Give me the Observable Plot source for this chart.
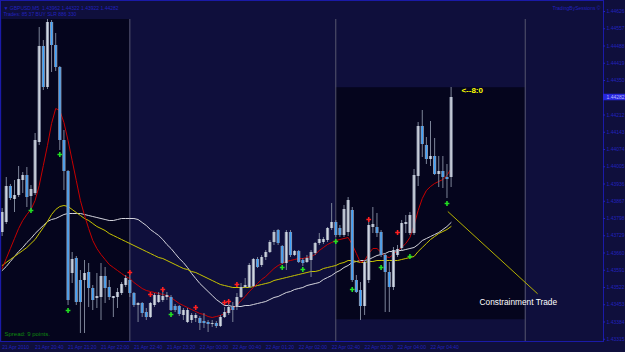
<!DOCTYPE html>
<html><head><meta charset="utf-8">
<script src="https://cdn.jsdelivr.net/npm/d3@7"></script>
<script src="https://cdn.jsdelivr.net/npm/@observablehq/plot@0.6"></script>
<style>
html,body{margin:0;padding:0;background:#0f0f3c;overflow:hidden}
svg{display:block}
</style></head><body><div id="chart"></div>
<script>
// ---- data (bar index 0..109, GBPUSD M5) ----
const open = [1.43742,1.43782,1.43926,1.43874,1.43890,1.43950,1.43970,1.43886,1.43898,1.44102,
1.44486,1.44322,1.44582,1.44490,1.44402,1.44110,1.43986,1.43578,1.43638,1.43550,
1.43550,1.43582,1.43518,1.43478,1.43482,1.43566,1.43522,1.43478,1.43482,1.43498,
1.43530,1.43550,1.43498,1.43450,1.43458,1.43422,1.43402,1.43450,1.43462,1.43470,
1.43482,1.43482,1.43446,1.43446,1.43410,1.43382,1.43390,1.43398,1.43398,1.43386,
1.43382,1.43374,1.43378,1.43366,1.43402,1.43418,1.43442,1.43442,1.43482,1.43522,
1.43522,1.43526,1.43634,1.43610,1.43642,1.43662,1.43702,1.43750,1.43686,1.43618,
1.43742,1.43650,1.43666,1.43630,1.43622,1.43630,1.43658,1.43698,1.43702,1.43710,
1.43758,1.43782,1.43758,1.43730,1.43742,1.43830,1.43550,1.43510,1.43446,1.43550,
1.43762,1.43762,1.43742,1.43650,1.43582,1.43522,1.43650,1.43678,1.43774,1.43738,
1.43738,1.43966,1.44166,1.44090,1.44034,1.44046,1.43974,1.43986,1.43962,1.43962];
const high = [1.43838,1.43962,1.43934,1.43950,1.44006,1.43982,1.44002,1.43930,1.44138,1.44562,
1.44510,1.44594,1.44590,1.44538,1.44406,1.44150,1.43990,1.43662,1.43646,1.43590,
1.43630,1.43618,1.43530,1.43578,1.43618,1.43602,1.43550,1.43486,1.43518,1.43542,
1.43570,1.43570,1.43502,1.43462,1.43462,1.43438,1.43462,1.43498,1.43502,1.43510,
1.43502,1.43490,1.43454,1.43450,1.43438,1.43438,1.43418,1.43418,1.43406,1.43418,
1.43390,1.43390,1.43386,1.43410,1.43442,1.43458,1.43462,1.43498,1.43538,1.43558,
1.43618,1.43638,1.43642,1.43650,1.43670,1.43710,1.43750,1.43754,1.43690,1.43750,
1.43750,1.43670,1.43670,1.43638,1.43650,1.43670,1.43702,1.43738,1.43722,1.43762,
1.43858,1.43790,1.43770,1.43850,1.43882,1.43842,1.43570,1.43542,1.43630,1.43790,
1.43842,1.43818,1.43750,1.43658,1.43622,1.43682,1.43690,1.43790,1.43810,1.43822,
1.43994,1.44182,1.44230,1.44122,1.44186,1.44118,1.44046,1.44046,1.44014,1.44322];
const low = [1.43726,1.43774,1.43870,1.43822,1.43882,1.43898,1.43842,1.43830,1.43890,1.44090,
1.44310,1.44314,1.44382,1.44386,1.44070,1.43910,1.43450,1.43538,1.43450,1.43338,
1.43338,1.43442,1.43430,1.43438,1.43390,1.43458,1.43470,1.43402,1.43438,1.43490,
1.43522,1.43482,1.43442,1.43382,1.43402,1.43390,1.43398,1.43442,1.43458,1.43462,
1.43470,1.43426,1.43422,1.43406,1.43390,1.43378,1.43378,1.43382,1.43350,1.43358,
1.43342,1.43362,1.43358,1.43362,1.43398,1.43410,1.43382,1.43430,1.43478,1.43518,
1.43518,1.43522,1.43598,1.43602,1.43630,1.43658,1.43690,1.43690,1.43614,1.43590,
1.43642,1.43646,1.43618,1.43606,1.43618,1.43562,1.43650,1.43690,1.43694,1.43702,
1.43750,1.43722,1.43722,1.43722,1.43726,1.43542,1.43498,1.43390,1.43410,1.43538,
1.43738,1.43722,1.43642,1.43422,1.43422,1.43510,1.43642,1.43670,1.43738,1.43730,
1.43730,1.43926,1.44042,1.44014,1.44006,1.43970,1.43922,1.43918,1.43878,1.43922];
const close = [1.43822,1.43926,1.43878,1.43890,1.43954,1.43970,1.43882,1.43914,1.44110,1.44486,
1.44322,1.44582,1.44490,1.44402,1.44110,1.43986,1.43470,1.43634,1.43462,1.43462,
1.43578,1.43518,1.43470,1.43486,1.43566,1.43518,1.43482,1.43486,1.43502,1.43534,
1.43558,1.43498,1.43450,1.43458,1.43418,1.43402,1.43458,1.43490,1.43490,1.43486,
1.43490,1.43430,1.43430,1.43414,1.43430,1.43430,1.43410,1.43410,1.43378,1.43378,
1.43374,1.43378,1.43366,1.43402,1.43422,1.43442,1.43430,1.43482,1.43522,1.43530,
1.43610,1.43634,1.43602,1.43642,1.43662,1.43702,1.43742,1.43698,1.43618,1.43742,
1.43650,1.43666,1.43622,1.43618,1.43638,1.43662,1.43698,1.43714,1.43714,1.43758,
1.43782,1.43730,1.43730,1.43834,1.43870,1.43550,1.43502,1.43446,1.43622,1.43770,
1.43774,1.43738,1.43650,1.43582,1.43522,1.43670,1.43674,1.43778,1.43782,1.43810,
1.43970,1.44166,1.44094,1.44034,1.44046,1.43974,1.43986,1.43962,1.43954,1.44282];
const maRed = [1.43598,1.43638,1.43678,1.43718,1.43758,1.43790,1.43814,1.43834,1.43870,1.43930,
1.44010,1.44090,1.44178,1.44238,1.44230,1.44182,1.44110,1.44030,1.43950,1.43870,
1.43810,1.43758,1.43710,1.43678,1.43654,1.43634,1.43614,1.43602,1.43590,1.43578,
1.43566,1.43558,1.43542,1.43530,1.43518,1.43510,1.43506,1.43502,1.43498,1.43494,
1.43490,1.43482,1.43470,1.43458,1.43450,1.43442,1.43434,1.43426,1.43418,1.43414,
1.43406,1.43402,1.43406,1.43410,1.43418,1.43430,1.43438,1.43450,1.43470,1.43486,
1.43506,1.43522,1.43538,1.43554,1.43566,1.43582,1.43598,1.43610,1.43618,1.43626,
1.43630,1.43634,1.43638,1.43638,1.43642,1.43646,1.43654,1.43670,1.43682,1.43694,
1.43702,1.43710,1.43714,1.43718,1.43722,1.43694,1.43658,1.43622,1.43630,1.43658,
1.43678,1.43678,1.43662,1.43646,1.43642,1.43654,1.43670,1.43682,1.43698,1.43722,
1.43770,1.43830,1.43878,1.43910,1.43926,1.43938,1.43946,1.43954,1.43970,1.43998];
const maYellow = [1.43610,1.43622,1.43634,1.43646,1.43658,1.43670,1.43682,1.43698,1.43714,1.43738,
1.43762,1.43786,1.43814,1.43834,1.43846,1.43850,1.43846,1.43834,1.43822,1.43810,
1.43798,1.43790,1.43778,1.43766,1.43758,1.43750,1.43738,1.43730,1.43722,1.43714,
1.43706,1.43698,1.43690,1.43682,1.43674,1.43666,1.43658,1.43650,1.43642,1.43638,
1.43630,1.43622,1.43614,1.43606,1.43598,1.43594,1.43586,1.43582,1.43574,1.43566,
1.43558,1.43550,1.43542,1.43534,1.43530,1.43526,1.43522,1.43522,1.43522,1.43522,
1.43522,1.43526,1.43530,1.43534,1.43538,1.43542,1.43550,1.43554,1.43558,1.43562,
1.43566,1.43570,1.43574,1.43578,1.43582,1.43586,1.43586,1.43590,1.43598,1.43602,
1.43606,1.43610,1.43618,1.43622,1.43630,1.43630,1.43626,1.43622,1.43622,1.43626,
1.43626,1.43630,1.43630,1.43630,1.43630,1.43630,1.43630,1.43634,1.43638,1.43642,
1.43646,1.43666,1.43682,1.43698,1.43714,1.43726,1.43738,1.43746,1.43754,1.43766];
const maWhite = [1.43590,1.43606,1.43626,1.43646,1.43666,1.43682,1.43702,1.43718,1.43738,1.43754,
1.43770,1.43786,1.43794,1.43798,1.43806,1.43814,1.43818,1.43818,1.43818,1.43818,
1.43814,1.43810,1.43806,1.43802,1.43798,1.43794,1.43790,1.43790,1.43794,1.43798,
1.43798,1.43798,1.43798,1.43794,1.43782,1.43770,1.43754,1.43742,1.43730,1.43714,
1.43694,1.43678,1.43658,1.43638,1.43622,1.43602,1.43578,1.43558,1.43538,1.43522,
1.43506,1.43490,1.43474,1.43462,1.43450,1.43450,1.43446,1.43446,1.43446,1.43450,
1.43450,1.43454,1.43458,1.43462,1.43466,1.43474,1.43482,1.43486,1.43494,1.43502,
1.43506,1.43514,1.43518,1.43522,1.43530,1.43534,1.43538,1.43542,1.43554,1.43562,
1.43570,1.43582,1.43590,1.43602,1.43610,1.43622,1.43626,1.43630,1.43630,1.43634,
1.43642,1.43650,1.43654,1.43658,1.43666,1.43666,1.43670,1.43670,1.43674,1.43678,
1.43682,1.43694,1.43710,1.43718,1.43726,1.43734,1.43742,1.43754,1.43766,1.43782];
const buyIdx = [7,14,16,41,68,73,81,85,92,99,108];
const buyPrice = [1.43830,1.44054,1.43430,1.43414,1.43602,1.43594,1.43706,1.43514,1.43602,1.43646,1.43858];
const sellIdx = [31,36,39,47,54,55,57,89,96];
const sellPrice = [1.43582,1.43494,1.43514,1.43442,1.43462,1.43466,1.43534,1.43794,1.43742];
// session boxes (bar index range, price range)
const sessionStart = [0, 81];
const sessionEnd = [31, 127];
const sessionHigh = [1.44594, 1.44321];
const sessionLow = [1.43306, 1.43393];
const separatorIdx = [31, 81, 127];
const trendFrom = [108.2, 1.43826];
const trendTo = [130.0, 1.43497];
const trendLabel = "Constrainment Trade";
const trendLabelAt = [115.9, 1.43462];
const timerText = "<--8:0";
const timerAt = [111.5, 1.44310];
// axes
const priceTicks = [1.44626,1.44557,1.44488,1.44419,1.44350,1.44212,1.44143,1.44074,1.44005,
1.43936,1.43867,1.43798,1.43729,1.43660,1.43591,1.43522,1.43453,1.43384,1.43315];
const currentPrice = 1.44282;
const timeIdx = [0,8,16,24,32,40,48,56,64,72,80,88,96,104];
const timeLabels = ["21 Apr 2010","21 Apr 20:40","21 Apr 21:20","21 Apr 22:00","21 Apr 22:40","21 Apr 23:20",
"22 Apr 00:00","22 Apr 00:40","22 Apr 01:20","22 Apr 02:00","22 Apr 02:40","22 Apr 03:20","22 Apr 04:00","22 Apr 04:40"];
const header1 = "\u25BC GBPUSD,M5  1.43962 1.44322 1.43922 1.44282";
const header2 = "Trades: 85 37 BUY SLR 886 330";
const brand = "TradingBySessions \u00A9";
const spreadText = "Spread: 9 points.";

// ---- build ----
const bars = open.map((o, i) => ({i, o, h: high[i], l: low[i], c: close[i]}));
const up = bars.filter(d => d.c >= d.o), down = bars.filter(d => d.c < d.o);
const mk = arr => arr.map((v, i) => ({i, v}));
const sessions = sessionStart.map((s, k) => ({x1: s, x2: sessionEnd[k], top: sessionHigh[k], bottom: sessionLow[k]}));
const buys = buyIdx.map((i, k) => ({i, p: buyPrice[k]}));
const sells = sellIdx.map((i, k) => ({i, p: sellPrice[k]}));
const yMin = 1.43306, yMax = 1.44670, xMin = -0.4, xMax = 146;
const BLUE = "#2222bc";
const FONT = "'Liberation Sans', Arial, sans-serif";

const chart = Plot.plot({
  width: 625, height: 352,
  marginLeft: 0, marginRight: 22, marginTop: 0, marginBottom: 11,
  x: {domain: [xMin, xMax], axis: null},
  y: {domain: [yMin, yMax], axis: null},
  style: {background: "#0f0f3c", fontFamily: FONT, overflow: "visible"},
  marks: [
    Plot.rect(sessions, {x1: "x1", x2: "x2", y1: "top", y2: "bottom", fill: "#05051d"}),
    Plot.ruleX(separatorIdx, {y1: 1.44594, y2: yMin, stroke: "#56566f", strokeWidth: 1}),
    Plot.line(mk(maWhite), {x: "i", y: "v", stroke: "#d4d4dc", strokeWidth: 1}),
    Plot.line(mk(maYellow), {x: "i", y: "v", stroke: "#c8c400", strokeWidth: 1}),
    Plot.line(mk(maRed), {x: "i", y: "v", stroke: "#c80000", strokeWidth: 1}),
    Plot.ruleX(bars, {x: "i", y1: "l", y2: "h", stroke: "#7c8498", strokeWidth: 1}),
    Plot.ruleX(bars, {x: "i", y1: "o", y2: "c", stroke: "#8e96aa", strokeWidth: 3.2}),
    Plot.ruleX(up, {x: "i", y1: "o", y2: "c", stroke: "#d0d6e0", strokeWidth: 1.4}),
    Plot.ruleX(down, {x: "i", y1: "o", y2: "c", stroke: "#3aa2ff", strokeWidth: 1.4}),
    Plot.dot(buys, {x: "i", y: "p", symbol: "cross", r: 2, fill: "#22e022"}),
    Plot.dot(sells, {x: "i", y: "p", symbol: "cross", r: 2, fill: "#ff2020"}),
    Plot.link([0], {x1: () => trendFrom[0], y1: () => trendFrom[1], x2: () => trendTo[0], y2: () => trendTo[1], stroke: "#b4b000", strokeWidth: 1}),
    Plot.text([trendLabel], {x: () => trendLabelAt[0], y: () => trendLabelAt[1], text: d => d, textAnchor: "start", fill: "#ffffff", fontSize: 8.3}),
    Plot.text([timerText], {x: () => timerAt[0], y: () => timerAt[1], text: d => d, textAnchor: "start", fill: "#ffff00", fontSize: 8, fontWeight: "bold"}),
    Plot.frame({stroke: "#1a1aa8"}),
    Plot.ruleY(priceTicks, {x1: xMax, x2: xMax + 0.5, stroke: BLUE}),
    Plot.text(priceTicks, {x: xMax, y: d => d, text: d => d.toFixed(5), dx: 3, textAnchor: "start", fill: BLUE, fontSize: 5}),
    Plot.rect([currentPrice], {x1: xMax, x2: xMax + 5.4, y1: d => d + 0.00013, y2: d => d - 0.00013, fill: "#2626dc"}),
    Plot.text([currentPrice], {x: xMax, y: d => d, text: d => d.toFixed(5), dx: 3, textAnchor: "start", fill: "#b8b8ff", fontSize: 5}),
    Plot.text(timeIdx, {x: d => d, y: yMin, text: (d, k) => timeLabels[k], dy: 6, textAnchor: "start", fill: BLUE, fontSize: 5}),
    Plot.text([header1], {frameAnchor: "top-left", dx: 3, dy: 6, textAnchor: "start", fill: BLUE, fontSize: 5}),
    Plot.text([header2], {frameAnchor: "top-left", dx: 3, dy: 12, textAnchor: "start", fill: BLUE, fontSize: 5}),
    Plot.text([brand], {frameAnchor: "top-right", dx: -3, dy: 6, textAnchor: "end", fill: BLUE, fontSize: 5}),
    Plot.text([spreadText], {frameAnchor: "bottom-left", dx: 4, dy: -6, textAnchor: "start", fill: "#0e8a0e", fontSize: 6})
  ]
});
document.getElementById("chart").appendChild(chart);
</script></body></html>
